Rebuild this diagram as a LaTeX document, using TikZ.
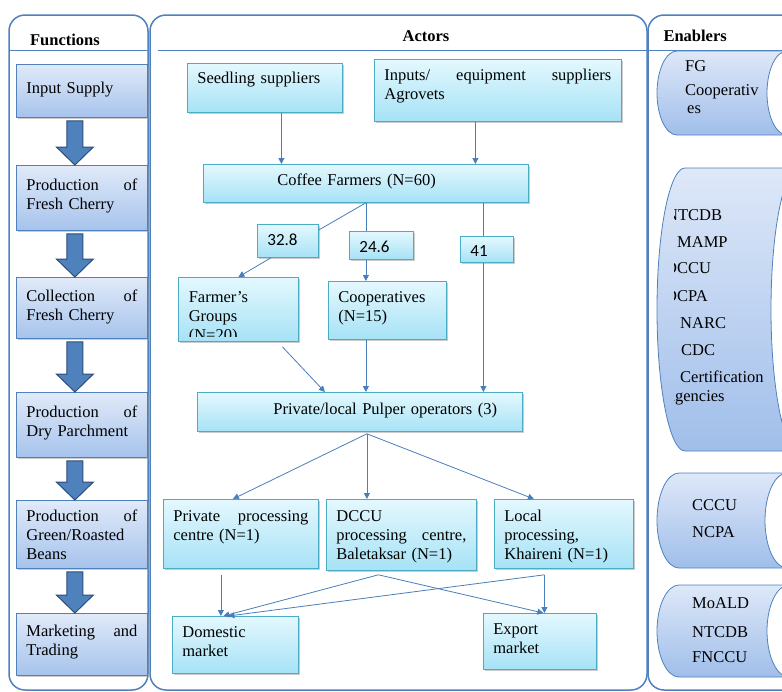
\documentclass[tikz,border=0pt]{standalone}
\usepackage{fontspec}
\setmainfont{Liberation Serif}
\newfontfamily\numfont{Carlito}
\usetikzlibrary{arrows.meta,calc,shadows}

\definecolor{panelblue}{RGB}{79,129,189}
\definecolor{functop}{RGB}{224,234,249}
\definecolor{funcbot}{RGB}{166,195,236}
\definecolor{actline}{RGB}{75,172,198}
\definecolor{acttop}{RGB}{228,248,254}
\definecolor{actbot}{RGB}{166,226,246}
\definecolor{linkblue}{RGB}{74,126,187}
\definecolor{arrowfill}{RGB}{79,129,189}
\definecolor{arrowline}{RGB}{44,77,117}
\definecolor{entop}{RGB}{222,232,248}
\definecolor{enbot}{RGB}{160,190,234}

\newcommand{\boxfont}{\fontsize{16.5}{19}\selectfont}
\newcommand{\jfill}{\hspace{0pt plus 1filll}}
% block arrow between two function boxes
\newcommand{\fatdown}[2]{%
  \filldraw[fatarrow] let \p1=(#1.south), \p2=(#2.north) in
    (\x1-15pt,\y1-3pt) -- (\x1+1pt,\y1-3pt) -- (\x1+1pt,\y2+18pt) -- (\x1+11.5pt,\y2+18pt)
    -- (\x1-7pt,\y2) -- (\x1-25.5pt,\y2+18pt) -- (\x1-15pt,\y2+18pt) -- cycle;}
% enabler drum: top, bottom, x radius, centre of right end
\newcommand{\drum}[4]{%
  \path[enabler] (#4,#1) -- (657+#3,#1)
    arc[start angle=-90, end angle=-270, x radius=#3, y radius={(#2-#1)/2}]
    -- (#4,#2) arc[start angle=90, end angle=-90, x radius=#3, y radius={(#2-#1)/2}] -- cycle;
  \filldraw[fill=white, draw=panelblue, line width=0.8pt] (#4,{(#1+#2)/2})
    ellipse[x radius=#3, y radius={(#2-#1)/2}];}

\tikzset{
  panel/.style={draw=panelblue, line width=1.5pt, rounded corners=16pt},
  headline/.style={draw=panelblue, line width=1pt},
  head/.style={font=\boxfont\bfseries},
  tdim/.style 2 args={text height=#1pt, text depth=#2pt},
  funcbox/.style={draw=panelblue, line width=0.8pt, top color=functop, bottom color=funcbot,
    anchor=north west, inner xsep=10pt, inner ysep=0pt, text width=111pt, align=left,
    font=\boxfont, drop shadow={shadow xshift=1.2pt, shadow yshift=-1.2pt, fill=black!40, opacity=0.5}},
  actbox/.style={draw=actline, line width=0.8pt, top color=acttop, bottom color=actbot,
    anchor=north west, inner xsep=10pt, inner ysep=0pt, align=left,
    font=\boxfont, drop shadow={shadow xshift=1.2pt, shadow yshift=-1.2pt, fill=black!40, opacity=0.5}},
  numbox/.style={actbox, font=\fontsize{17}{19}\numfont},
  link/.style={draw=linkblue, line width=0.8pt},
  linkarrow/.style={link, -{Triangle[length=6pt,width=6pt]}},
  fatarrow/.style={fill=arrowfill, draw=arrowline, line width=1pt},
  enabler/.style={draw=panelblue, line width=0.8pt, top color=entop, bottom color=enbot},
  etext/.style={font=\boxfont, anchor=base west, inner sep=0pt}
}

\begin{document}
\begin{tikzpicture}[x=1pt,y=-1pt]
\useasboundingbox (0,0) rectangle (782,691);

% columns
\draw[panel] (9,15) rectangle (148,690);
\draw[panel] (150,15) rectangle (647,690);
\draw[panel] (648,15) rectangle (820,690);
\draw[headline] (9,50) -- (148,50);
\draw[headline] (158,50) -- (647,50);
\draw[headline] (648,50) -- (782,50);
\node[head] (hfun) at (65,40) {Functions};
\node[head] (hact) at (426,36) {Actors};
\node[head, anchor=west] (hen) at (660,36) {Enablers};

% functions
\node[funcbox, tdim={29}{24}] (f1) at (16,64) {Input Supply};
\node[funcbox, tdim={25}{40}] (f2) at (16,165) {Production \jfill of\\Fresh Cherry};
\node[funcbox, tdim={24}{37}] (f3) at (16,277) {Collection \jfill of\\Fresh Cherry};
\node[funcbox, tdim={25}{40}] (f4) at (16,392) {Production \jfill of\\Dry Parchment};
\node[funcbox, tdim={21}{47}] (f5) at (16,500) {Production \jfill of\\Green/Roasted\\Beans};
\node[funcbox, tdim={23}{39}] (f6) at (16,613) {Marketing \jfill and\\Trading};
\fatdown{f1}{f2}
\fatdown{f2}{f3}
\fatdown{f3}{f4}
\fatdown{f4}{f5}
\fatdown{f5}{f6}

% actors
\node[actbox, text width=135pt, tdim={20}{29}] (seed) at (187,63) {Seedling suppliers};
\node[actbox, text width=227pt, tdim={21}{41}] (inputs) at (374,59)
  {Inputs/ \jfill equipment \jfill suppliers\\Agrovets};
\node[actbox, text width=305pt, tdim={21}{17}] (farmers) at (203,164)
  {\hspace*{64pt}Coffee Farmers (N=60)};
\node[numbox, text width=41pt, tdim={21.5}{11.5}] (n328) at (257,224) {32.8};
\node[numbox, text width=44pt, tdim={21.5}{6.5}] (n246) at (349,231) {24.6};
\node[numbox, text width=33pt, tdim={20.5}{5.5}] (n41) at (460,236) {41};
\node[actbox, text width=100pt, tdim={23}{41},
  path picture={\clip (path picture bounding box.north west) rectangle
      ([yshift=5pt]path picture bounding box.south east);
    \node[anchor=base west, text width=100pt, align=left, inner sep=0pt,
    font=\boxfont] (grouptext) at ([xshift=10pt,yshift=-25pt]path picture bounding box.north west)
    {Farmer's\\Groups\\(N=20)};}] (groups) at (178,277) {};
\node[actbox, text width=98pt, tdim={21}{37}] (coops) at (328,281) {Cooperatives\\(N=15)};
\node[actbox, text width=305pt, tdim={22}{17}] (pulper) at (197,392)
  {\hspace*{66pt}Private/local Pulper operators (3)};
\node[actbox, text width=135pt, tdim={22}{47}] (priv) at (163,499)
  {Private \jfill processing\\centre (N=1)};
\node[actbox, text width=130pt, tdim={22}{49}] (dccu) at (326,499)
  {DCCU\\processing \jfill centre,\\Baletaksar (N=1)};
\node[actbox, text width=119pt, tdim={22}{47}] (local) at (494,499)
  {Local\\processing,\\Khaireni (N=1)};
\node[actbox, text width=106pt, tdim={21}{36}] (domestic) at (172,616) {Domestic\\market};
\node[actbox, text width=93pt, tdim={21}{35}] (export) at (483,613) {Export\\market};

% links
\coordinate (s1) at ([xshift=16.5pt]seed.south);
\draw[linkarrow] (s1) -- (s1 |- farmers.north);
\coordinate (s2) at ([xshift=-22.5pt]inputs.south);
\draw[linkarrow] (s2) -- (s2 |- farmers.north);
\draw[link] (farmers.south) -- ([yshift=-6pt]n328.north east);
\draw[link] (farmers.south) -- (farmers.south |- n246.north);
\coordinate (c41) at ([xshift=-3.5pt]n41.north);
\draw[link] (c41 |- farmers.south) -- (c41);
\draw[linkarrow] ([xshift=-17pt]n328.south) -- (groups.north);
\coordinate (c246) at (farmers.south |- n246.south);
\draw[linkarrow] (c246) -- (c246 |- coops.north);
\draw[linkarrow] ([xshift=44pt,yshift=-5pt]groups.south) -- ([xshift=-35pt]pulper.north);
\draw[linkarrow] (c246 |- coops.south) -- (c246 |- pulper.north);
\draw[linkarrow] (c41 |- n41.south) -- (c41 |- pulper.north);
\coordinate (ps) at ([xshift=7pt,yshift=-2pt]pulper.south);
\draw[linkarrow] (ps) -- ([xshift=-8pt]priv.north);
\draw[linkarrow] (ps) -- (ps |- dccu.north);
\draw[linkarrow] (ps) -- ([xshift=-30pt]local.north);
\coordinate (p1) at ([xshift=-20pt,yshift=-6pt]priv.south);
\draw[linkarrow] (p1) -- (p1 |- domestic.north);
\coordinate (d1) at ([xshift=-23pt,yshift=-4pt]dccu.south);
\draw[linkarrow] (d1) -- ([xshift=-12pt]domestic.north);
\draw[linkarrow] (d1) -- ([xshift=3.5pt]export.north);
\coordinate (l1) at ([xshift=-19.5pt,yshift=-6pt]local.south);
\draw[linkarrow] (l1) -- ([xshift=-7pt]domestic.north);
\draw[linkarrow] (l1) -- (l1 |- export.north);

% enablers
\drum{51}{135}{20}{787}
\drum{168}{451}{28}{799}
\drum{473}{568}{22}{787}
\drum{585}{677}{22}{789}
\node[etext] (e1) at (685,71) {FG};
\node[etext] (e2) at (685,95) {Cooperativ};
\node[etext] (e3) at (687,113) {es};
\begin{scope}
\clip (674.5,160) rectangle (782,460);
\node[etext] (e4) at (666,220) {NTCDB};
\node[etext] (e5) at (677,247) {MAMP};
\node[etext] (e6) at (665,273) {DCCU};
\node[etext] (e7) at (665,301) {DCPA};
\node[etext] (e8) at (680,328) {NARC};
\node[etext] (e9) at (681,355) {CDC};
\node[etext] (e10) at (680,382) {Certification};
\node[etext] (e11) at (663,401) {Agencies};
\end{scope}
\node[etext] (e12) at (692,510) {CCCU};
\node[etext] (e13) at (692,537) {NCPA};
\node[etext] (e14) at (692,608) {MoALD};
\node[etext] (e15) at (692,637) {NTCDB};
\node[etext] (e16) at (692,662) {FNCCU};
\end{tikzpicture}
\end{document}
